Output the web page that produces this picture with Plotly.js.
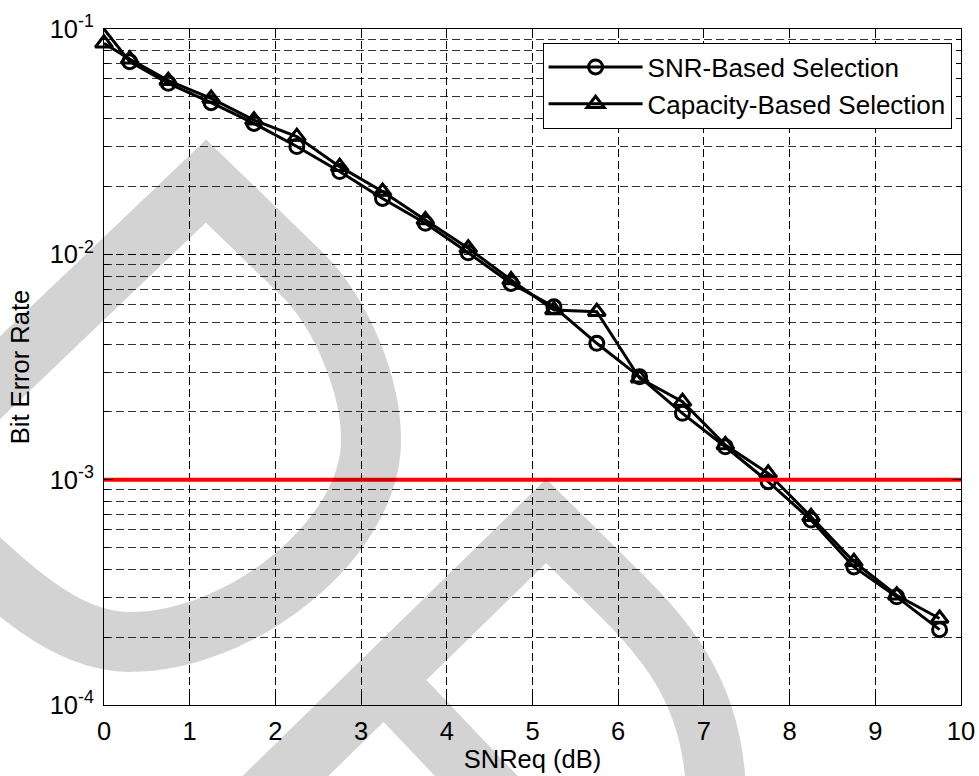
<!DOCTYPE html>
<html><head><meta charset="utf-8">
<script src="https://cdn.plot.ly/plotly-3.0.1.min.js"></script>
<style>html,body{margin:0;padding:0;background:#fff}#chart{width:979px;height:776px}</style>
</head><body><div id="chart"></div>
<script>
// ---- data ----
const snrDb = [0, 0.3, 0.75, 1.25, 1.75, 2.25, 2.75, 3.25, 3.75, 4.25, 4.75, 5.25, 5.75, 6.25, 6.75, 7.25, 7.75, 8.25, 8.75, 9.25, 9.75];
const berSnrBased = [0.1, 0.0716, 0.0574, 0.0471, 0.0381, 0.0301, 0.0233, 0.0177, 0.01374, 0.01016, 0.00743, 0.00585, 0.00403, 0.00286, 0.00197, 0.0014, 0.00098, 0.000662, 0.00041, 0.000302, 0.000216];
const berCapBased = [0.0864, 0.0735, 0.059, 0.0492, 0.0394, 0.0333, 0.0245, 0.019, 0.0142, 0.01064, 0.00769, 0.00566, 0.00556, 0.00282, 0.00222, 0.001425, 0.001067, 0.000685, 0.000432, 0.000307, 0.000242];
const thresholdX = [0, 10];
const thresholdY = [1e-3, 1e-3];
const seriesNames = ['SNR-Based Selection', 'Capacity-Based Selection'];
const xTickVals = [0, 1, 2, 3, 4, 5, 6, 7, 8, 9, 10];
const yTickVals = [1e-4, 1e-3, 1e-2, 1e-1];
const yTickText = ['10<sup>-4</sup>', '10<sup>-3</sup>', '10<sup>-2</sup>', '10<sup>-1</sup>'];

// ---- layout geometry ----
const W = 979, H = 776;
const M = {l: 104, r: 18, t: 29, b: 71};
const PW = W - M.l - M.r, PH = H - M.t - M.b;
function pathToPaper(cmds) {
  return cmds.map(c => {
    const op = c[0]; const nums = c.slice(1); const out = [];
    for (let i = 0; i < nums.length; i += 2) {
      out.push(((nums[i] - M.l) / PW).toFixed(4) + ',' + ((H - M.b - nums[i + 1]) / PH).toFixed(4));
    }
    return op + out.join(' ');
  }).join(' ');
}
// watermark centre-lines (pixel coordinates of the page)
const wm1 = [['M', -60, 435], ['L', 206, 181], ['L', 300, 272], ['C', 345, 316, 371, 390, 371, 440],
             ['C', 371, 540, 240, 642, 130, 642], ['C', 80, 642, 30, 610, -40, 540]];
const wm2 = [['M', 220, 840], ['L', 546, 521], ['L', 610, 584], ['C', 660, 633, 716, 690, 716, 800],
             ['M', 386, 681], ['L', 520, 822]];
const wmStyle = {color: 'rgba(0,0,0,0.172)', width: 60};

const font = 'Liberation Sans, Arial, Helvetica, sans-serif';
const FS = 25.5;
const markerLine = {width: 3};

const traces = [
  {x: snrDb, y: berSnrBased, name: seriesNames[0], type: 'scatter', mode: 'lines+markers', cliponaxis: false,
   line: {color: '#000', width: 3},
   marker: {symbol: 'circle-open', size: 14, color: '#000', line: markerLine}},
  {x: snrDb, y: berCapBased, name: seriesNames[1], type: 'scatter', mode: 'lines+markers', cliponaxis: false,
   line: {color: '#000', width: 3},
   marker: {symbol: 'triangle-up-open', size: 15, color: '#000', line: markerLine}},
  {x: thresholdX, y: thresholdY, type: 'scatter', mode: 'lines', showlegend: false, hoverinfo: 'skip',
   line: {color: '#ff0000', width: 4}}
];

const gridDash = '8px,4px';
const layout = {
  width: W, height: H, margin: M,
  paper_bgcolor: '#fff', plot_bgcolor: 'rgba(0,0,0,0)',
  font: {family: font, size: FS, color: '#000'},
  showlegend: true,
  legend: {x: 0.989, xanchor: 'right', y: 0.98, yanchor: 'top', bgcolor: '#fff',
           bordercolor: '#000', borderwidth: 1, itemwidth: 94,
           font: {family: font, size: 26, color: '#000'}},
  xaxis: {range: [0, 10], tickvals: xTickVals, ticks: 'inside', ticklen: 9, tickcolor: '#000',
          showline: true, linecolor: '#000', linewidth: 1, mirror: 'allticks', zeroline: false,
          showgrid: true, gridcolor: '#000', gridwidth: 1, griddash: gridDash,
          tickfont: {family: font, size: FS}, ticklabelstandoff: 3,
          title: {text: 'SNReq (dB)', font: {family: font, size: FS}, standoff: 4}},
  yaxis: {type: 'log', range: [-4, -1], tickvals: yTickVals, ticktext: yTickText,
          ticks: 'inside', ticklen: 9, tickcolor: '#000',
          showline: true, linecolor: '#000', linewidth: 1, mirror: 'allticks', zeroline: false,
          showgrid: true, gridcolor: '#000', gridwidth: 1, griddash: gridDash,
          minor: {dtick: 'D1', ticks: 'inside', ticklen: 5, tickcolor: '#000', showgrid: true,
                  gridcolor: '#333', gridwidth: 1, griddash: gridDash},
          tickfont: {family: font, size: FS}, ticklabelstandoff: 4,
          title: {text: 'Bit Error Rate', font: {family: font, size: FS}, standoff: 12}},
  shapes: [
    {type: 'path', xref: 'paper', yref: 'paper', layer: 'above', path: pathToPaper(wm1), line: wmStyle, fillcolor: 'rgba(0,0,0,0)'},
    {type: 'path', xref: 'paper', yref: 'paper', layer: 'above', path: pathToPaper(wm2), line: wmStyle, fillcolor: 'rgba(0,0,0,0)'}
  ]
};
Plotly.newPlot('chart', traces, layout, {staticPlot: true, displayModeBar: false});
</script></body></html>
